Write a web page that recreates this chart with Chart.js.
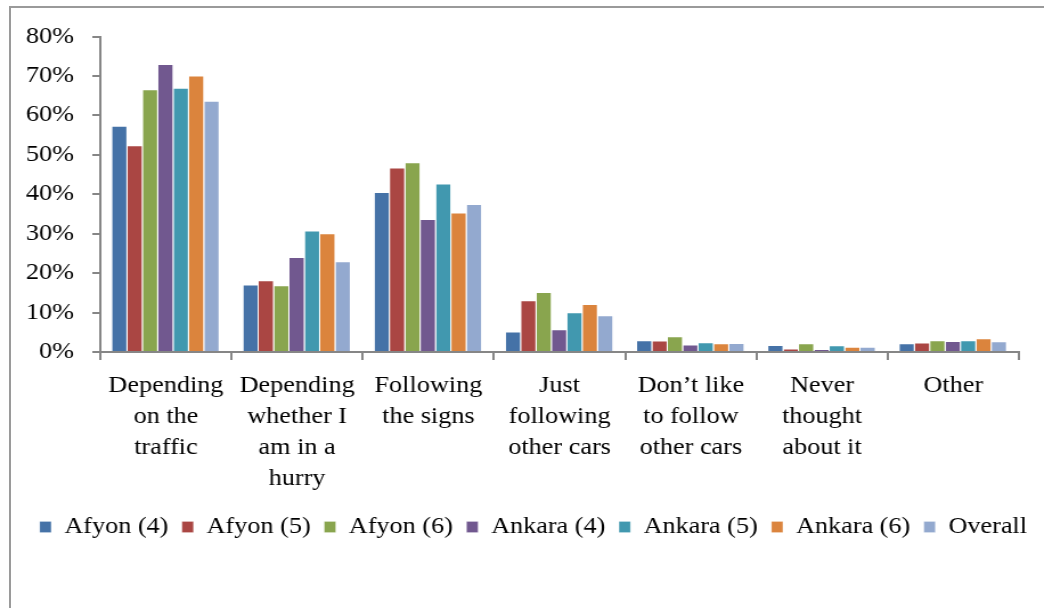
<!DOCTYPE html>
<html>
<head>
<meta charset="utf-8">
<script src="https://cdn.jsdelivr.net/npm/chart.js@4/dist/chart.umd.min.js"></script>
<style>
  html, body { margin: 0; padding: 0; background: #fff; }
  #frame {
    position: absolute; left: 9px; top: 6px; width: 1100px; height: 700px;
    border-left: 2px solid #9a9a9a; border-top: 2px solid #9a9a9a;
  }
  #wrap {
    position: absolute; left: 0; top: 0; width: 916px; height: 608px;
    transform: scaleX(1.1397); transform-origin: 0 0;
  }
</style>
</head>
<body>
<div id="frame"></div>
<div id="wrap"><canvas id="c" width="916" height="608"></canvas></div>
<script>
// Reasons given for choosing a lane / route (% of respondents)
const categories = [
  ['Depending', 'on the', 'traffic'],
  ['Depending', 'whether I', 'am in a', 'hurry'],
  ['Following', 'the signs'],
  ['Just', 'following', 'other cars'],
  ['Don\u2019t like', 'to follow', 'other cars'],
  ['Never', 'thought', 'about it'],
  ['Other']
];

const seriesNames = ['Afyon (4)', 'Afyon (5)', 'Afyon (6)', 'Ankara (4)', 'Ankara (5)', 'Ankara (6)', 'Overall'];
const seriesColors = ['#4572A7', '#AA4643', '#89A54E', '#71588F', '#4198AF', '#DB843D', '#93A9CF'];

const afyon4  = [57.4, 17.1, 40.6,  5.2, 3.0, 1.8, 2.2];
const afyon5  = [52.4, 18.2, 46.8, 13.1, 2.9, 0.9, 2.4];
const afyon6  = [66.6, 16.9, 48.1, 15.2, 4.0, 2.2, 3.0];
const ankara4 = [73.0, 24.1, 33.7,  5.8, 1.9, 0.7, 2.8];
const ankara5 = [67.0, 30.8, 42.7, 10.1, 2.5, 1.7, 3.0];
const ankara6 = [70.1, 30.1, 35.4, 12.2, 2.2, 1.3, 3.5];
const overall = [63.7, 23.0, 37.5,  9.3, 2.3, 1.3, 2.7];

const yMin = 0, yMax = 80, yStep = 10;

const seriesValues = [afyon4, afyon5, afyon6, ankara4, ankara5, ankara6, overall];

const FONT = 'Liberation Serif, "Times New Roman", serif';
const AXIS_GREY = '#868686';

const datasets = seriesNames.map((name, i) => ({
  label: name,
  data: seriesValues[i],
  backgroundColor: seriesColors[i],
  borderColor: 'rgba(255,255,255,0.45)',
  borderWidth: { top: 1, right: 1, left: 0, bottom: 0 },
  borderSkipped: 'bottom',
  categoryPercentage: 0.82,
  barPercentage: 1.0
}));

new Chart(document.getElementById('c'), {
  type: 'bar',
  data: { labels: categories, datasets },
  options: {
    responsive: false,
    animation: false,
    layout: { padding: { left: 20, right: 0, top: 36.5, bottom: 59.5 } },
    plugins: {
      tooltip: { enabled: false },
      legend: {
        position: 'bottom',
        labels: {
          boxWidth: 10,
          boxHeight: 11,
          padding: 12,
          color: '#000',
          font: { family: FONT, size: 23 }
        }
      }
    },
    scales: {
      x: {
        grid: {
          display: true,
          drawOnChartArea: false,
          drawTicks: true,
          tickLength: 8,
          color: AXIS_GREY,
          lineWidth: 2
        },
        border: { display: true, color: AXIS_GREY, width: 2 },
        ticks: {
          color: '#000',
          padding: 10,
          maxRotation: 0,
          autoSkip: false,
          font: { family: FONT, size: 23, lineHeight: 31 / 23 }
        },
        afterFit: s => { s.height = 151.5; }
      },
      y: {
        min: yMin,
        max: yMax,
        grid: {
          display: true,
          drawOnChartArea: false,
          drawTicks: true,
          tickLength: 7,
          color: AXIS_GREY,
          lineWidth: 2
        },
        border: { display: true, color: AXIS_GREY, width: 2 },
        ticks: {
          stepSize: yStep,
          color: '#000',
          padding: 16,
          font: { family: FONT, size: 23 },
          callback: v => v + '%'
        },
        afterFit: s => { s.width = 68; }
      },
      yRight: {
        type: 'linear',
        position: 'right',
        display: true,
        grid: { display: false, drawTicks: false },
        border: { display: false },
        ticks: { display: false },
        afterFit: s => { s.width = 22; }
      }
    }
  }
});
</script>
</body>
</html>
